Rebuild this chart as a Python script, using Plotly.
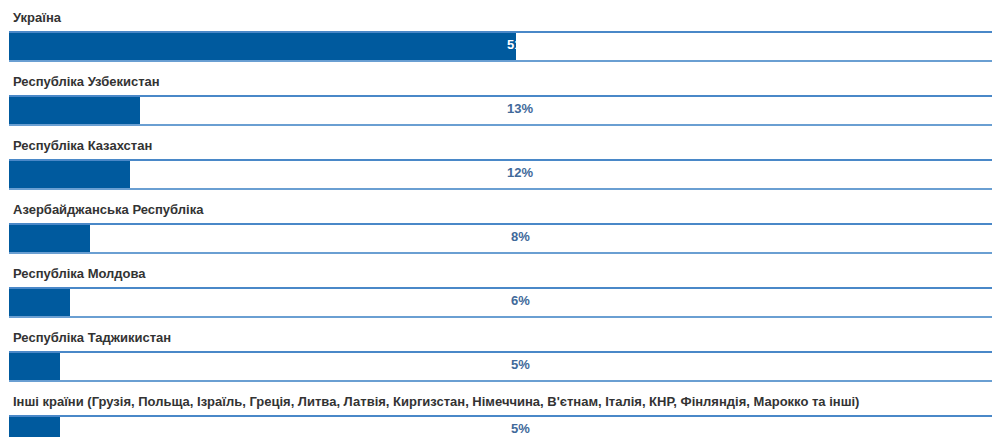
import plotly.graph_objects as go

countries = [
    "Україна",
    "Республіка Узбекистан",
    "Республіка Казахстан",
    "Азербайджанська Республіка",
    "Республіка Молдова",
    "Республіка Таджикистан",
    "Інші країни (Грузія, Польща, Ізраїль, Греція, Литва, Латвія, Киргизстан, Німеччина, В'єтнам, Італія, КНР, Фінляндія, Марокко та інші)",
]
values = [51.6, 13.3, 12.3, 8.2, 6.2, 5.2, 5.2]
value_labels = ["51%", "13%", "12%", "8%", "6%", "5%", "5%"]

W, H = 992, 437
left_px = 9
pitch = 64.0
first_center = 46.5
bar_px = 29.0
n = len(countries)
rows = list(range(n))

y_top = -first_center / pitch
y_bot = (H - first_center) / pitch
bw = bar_px / pitch

BAR = "#005a9e"
FONT = "Liberation Sans, Arial, sans-serif"

fig = go.Figure()
fig.add_trace(go.Bar(
    x=values, y=rows, orientation="h", width=bw,
    marker=dict(color=BAR, line=dict(width=0)),
    hoverinfo="skip", showlegend=False,
))

shapes = []
annotations = []
for i in rows:
    for edge, col in ((-bw / 2, "#4a88c8"), (bw / 2, "#6a9fd2")):
        shapes.append(dict(type="line", xref="paper", yref="y",
                           x0=0, x1=1, y0=i + edge, y1=i + edge,
                           line=dict(color=col, width=2), layer="above"))
    annotations.append(dict(
        x=2 / (W - left_px), xref="paper", y=i, yref="y",
        yshift=29, xanchor="left", yanchor="middle",
        text=countries[i], showarrow=False,
        font=dict(family=FONT, size=13, color="#333333", weight="bold"),
    ))
    inside = values[i] > 50
    annotations.append(dict(
        x=(520 - left_px) / (W - left_px), xref="paper", y=i, yref="y",
        yshift=2, xanchor="center", yanchor="middle",
        text=value_labels[i], showarrow=False,
        font=dict(family=FONT, size=13,
                  color="#ffffff" if inside else "#41699a", weight="bold"),
    ))

fig.update_layout(
    width=W, height=H,
    margin=dict(l=left_px, r=0, t=0, b=0),
    paper_bgcolor="white", plot_bgcolor="white",
    xaxis=dict(range=[0, 100], visible=False, fixedrange=True),
    yaxis=dict(range=[y_bot, y_top], visible=False, fixedrange=True),
    shapes=shapes, annotations=annotations,
    bargap=0,
)
fig.write_html("out.html", config={"displayModeBar": False},
               post_script="document.body.style.margin='0';document.body.style.overflow='hidden';")
